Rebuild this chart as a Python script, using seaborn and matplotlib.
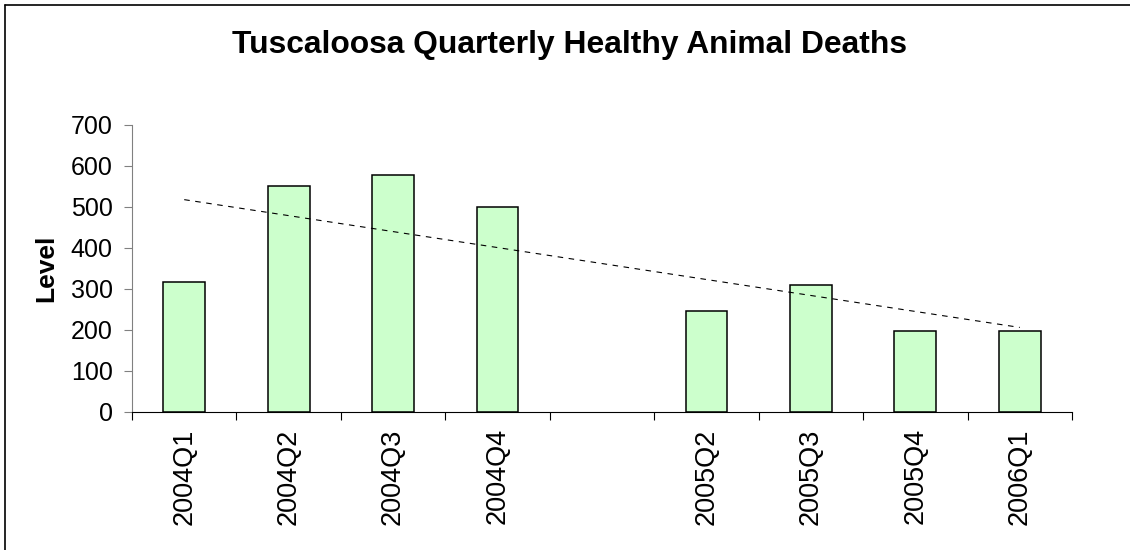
import numpy as np
import pandas as pd
import matplotlib
matplotlib.use("Agg")
import matplotlib.pyplot as plt
import seaborn as sns
from matplotlib.lines import Line2D

quarters = ["2004Q1", "2004Q2", "2004Q3", "2004Q4", "2005Q1",
            "2005Q2", "2005Q3", "2005Q4", "2006Q1"]
deaths = [317, 551, 578, 500, np.nan, 247, 309, 196, 196]
tick_labels = ["2004Q1", "2004Q2", "2004Q3", "2004Q4", "",
               "2005Q2", "2005Q3", "2005Q4", "2006Q1"]

df = pd.DataFrame({"quarter": quarters, "level": deaths})

sns.set_style("white")
plt.rcParams["font.family"] = ["Liberation Sans", "DejaVu Sans"]
plt.rcParams["text.color"] = "black"
plt.rcParams["axes.labelcolor"] = "black"
plt.rcParams["xtick.color"] = "black"
plt.rcParams["ytick.color"] = "black"

fig = plt.figure(figsize=(11.3, 5.5), dpi=100)
ax = fig.add_axes([132 / 1130, 1 - 411.7 / 550, 940 / 1130, 286.7 / 550])

sns.barplot(data=df, x="quarter", y="level", order=quarters, color="#CCFFCC",
            edgecolor="black", linewidth=1.1, width=0.4, saturation=1,
            errorbar=None, ax=ax)

# linear trend line over the quarters that have data
pos = np.arange(len(quarters))
mask = ~np.isnan(df["level"].to_numpy())
slope, icpt = np.polyfit(pos[mask], df["level"].to_numpy()[mask], 1)
ax.plot([pos[0], pos[-1]], [icpt + slope * pos[0], icpt + slope * pos[-1]],
        color="black", lw=0.8, linestyle=(0, (5, 5)))

ax.set_xlim(-0.5, len(quarters) - 0.5)
ax.set_ylim(0, 700)
ax.set_yticks(range(0, 701, 100))
ax.set_xticks(pos)
ax.set_xticklabels(tick_labels, rotation=90, fontsize=19.5)
ax.set_xticks(np.arange(-0.5, len(quarters), 1), minor=True)
ax.tick_params(axis="x", which="major", length=0, pad=12)
ax.tick_params(axis="x", which="minor", length=6, width=0.8, color="black",
               direction="out", bottom=True)
ax.tick_params(axis="y", length=6, width=0.8, color="#808080", direction="out",
               left=True, pad=8, labelsize=18, labelcolor="black")

ax.set_xlabel("")
ax.set_ylabel("Level", fontsize=19, fontweight="bold", labelpad=9)
for side in ["top", "right"]:
    ax.spines[side].set_visible(False)
ax.spines["left"].set_color("#808080")
ax.spines["bottom"].set_color("black")

fig.text(0.504, 1 - 53 / 550, "Tuscaloosa Quarterly Healthy Animal Deaths",
         ha="center", va="baseline", fontsize=22.9, fontweight="bold")

# outer frame: only the left and top edges are visible in the crop
fx, fy = 4.5 / 1130, 1 - 4.5 / 550
fig.add_artist(Line2D([fx, fx], [0, fy], transform=fig.transFigure,
                      color="black", lw=1.2))
fig.add_artist(Line2D([fx, 1], [fy, fy], transform=fig.transFigure,
                      color="black", lw=1.2))

fig.savefig("out.png", dpi=100)
